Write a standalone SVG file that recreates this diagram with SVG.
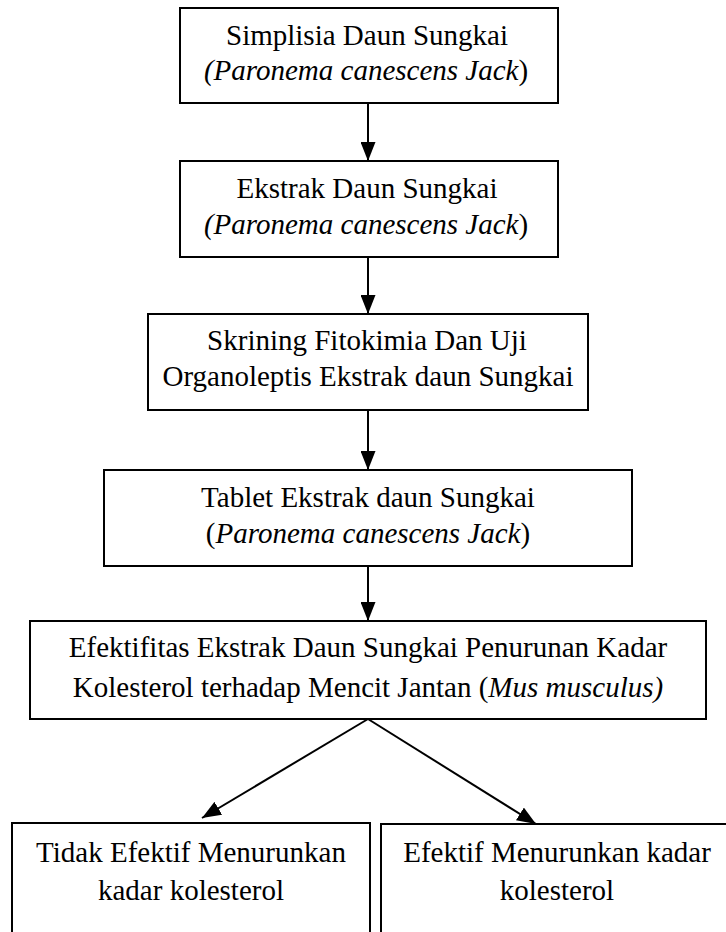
<svg xmlns="http://www.w3.org/2000/svg" width="726" height="932" viewBox="0 0 726 932">
<defs>
<style>
.box{fill:#fff;stroke:#000;stroke-width:2}
.t{font-family:"Liberation Serif","Times New Roman",serif;font-size:29px;fill:#000;text-anchor:middle}
.i{font-style:italic}
.c{stroke:#000;stroke-width:2;fill:none}
</style>
<marker id="ah" markerUnits="userSpaceOnUse" markerWidth="19" markerHeight="15" refX="19" refY="7.5" orient="auto">
<path d="M0,0 L19,7.5 L0,15 z" fill="#000"/>
</marker>
</defs>
<rect width="726" height="932" fill="#fff"/>
<g id="connectors">
<line class="c" x1="368" y1="103" x2="368" y2="161" marker-end="url(#ah)"/>
<line class="c" x1="368" y1="257" x2="368" y2="314" marker-end="url(#ah)"/>
<line class="c" x1="368" y1="410" x2="368" y2="470" marker-end="url(#ah)"/>
<line class="c" x1="368" y1="566" x2="368" y2="621" marker-end="url(#ah)"/>
<line class="c" x1="368" y1="719" x2="202" y2="818" marker-end="url(#ah)"/>
<line class="c" x1="368" y1="719" x2="536" y2="824" marker-end="url(#ah)"/>
</g>
<g id="n1">
<rect class="box" x="180" y="8" width="378" height="95"/>
<text class="t" x="367" y="45">Simplisia Daun Sungkai</text>
<text class="t" x="366" y="80"><tspan class="i">(Paronema canescens Jack</tspan>)</text>
</g>
<g id="n2">
<rect class="box" x="180" y="161" width="378" height="96"/>
<text class="t" x="367" y="198">Ekstrak Daun Sungkai</text>
<text class="t" x="366" y="234"><tspan class="i">(Paronema canescens Jack</tspan>)</text>
</g>
<g id="n3">
<rect class="box" x="148" y="314" width="440" height="96"/>
<text class="t" x="367" y="350">Skrining Fitokimia Dan Uji</text>
<text class="t" x="368" y="386">Organoleptis Ekstrak daun Sungkai</text>
</g>
<g id="n4">
<rect class="box" x="104" y="470" width="528" height="96"/>
<text class="t" x="368" y="507">Tablet Ekstrak daun Sungkai</text>
<text class="t" x="368" y="543">(<tspan class="i">Paronema canescens Jack</tspan>)</text>
</g>
<g id="n5">
<rect class="box" x="30" y="621" width="676" height="98"/>
<text class="t" x="368" y="657">Efektifitas Ekstrak Daun Sungkai Penurunan Kadar</text>
<text class="t" x="368" y="697">Kolesterol terhadap Mencit Jantan (<tspan class="i">Mus musculus)</tspan></text>
</g>
<g id="n6">
<rect class="box" x="12" y="823" width="358" height="120"/>
<text class="t" x="191" y="862">Tidak Efektif Menurunkan</text>
<text class="t" x="191" y="900">kadar kolesterol</text>
</g>
<g id="n7">
<rect class="box" x="381" y="824" width="360" height="120"/>
<text class="t" x="557" y="862">Efektif Menurunkan kadar</text>
<text class="t" x="557" y="900">kolesterol</text>
</g>
</svg>
